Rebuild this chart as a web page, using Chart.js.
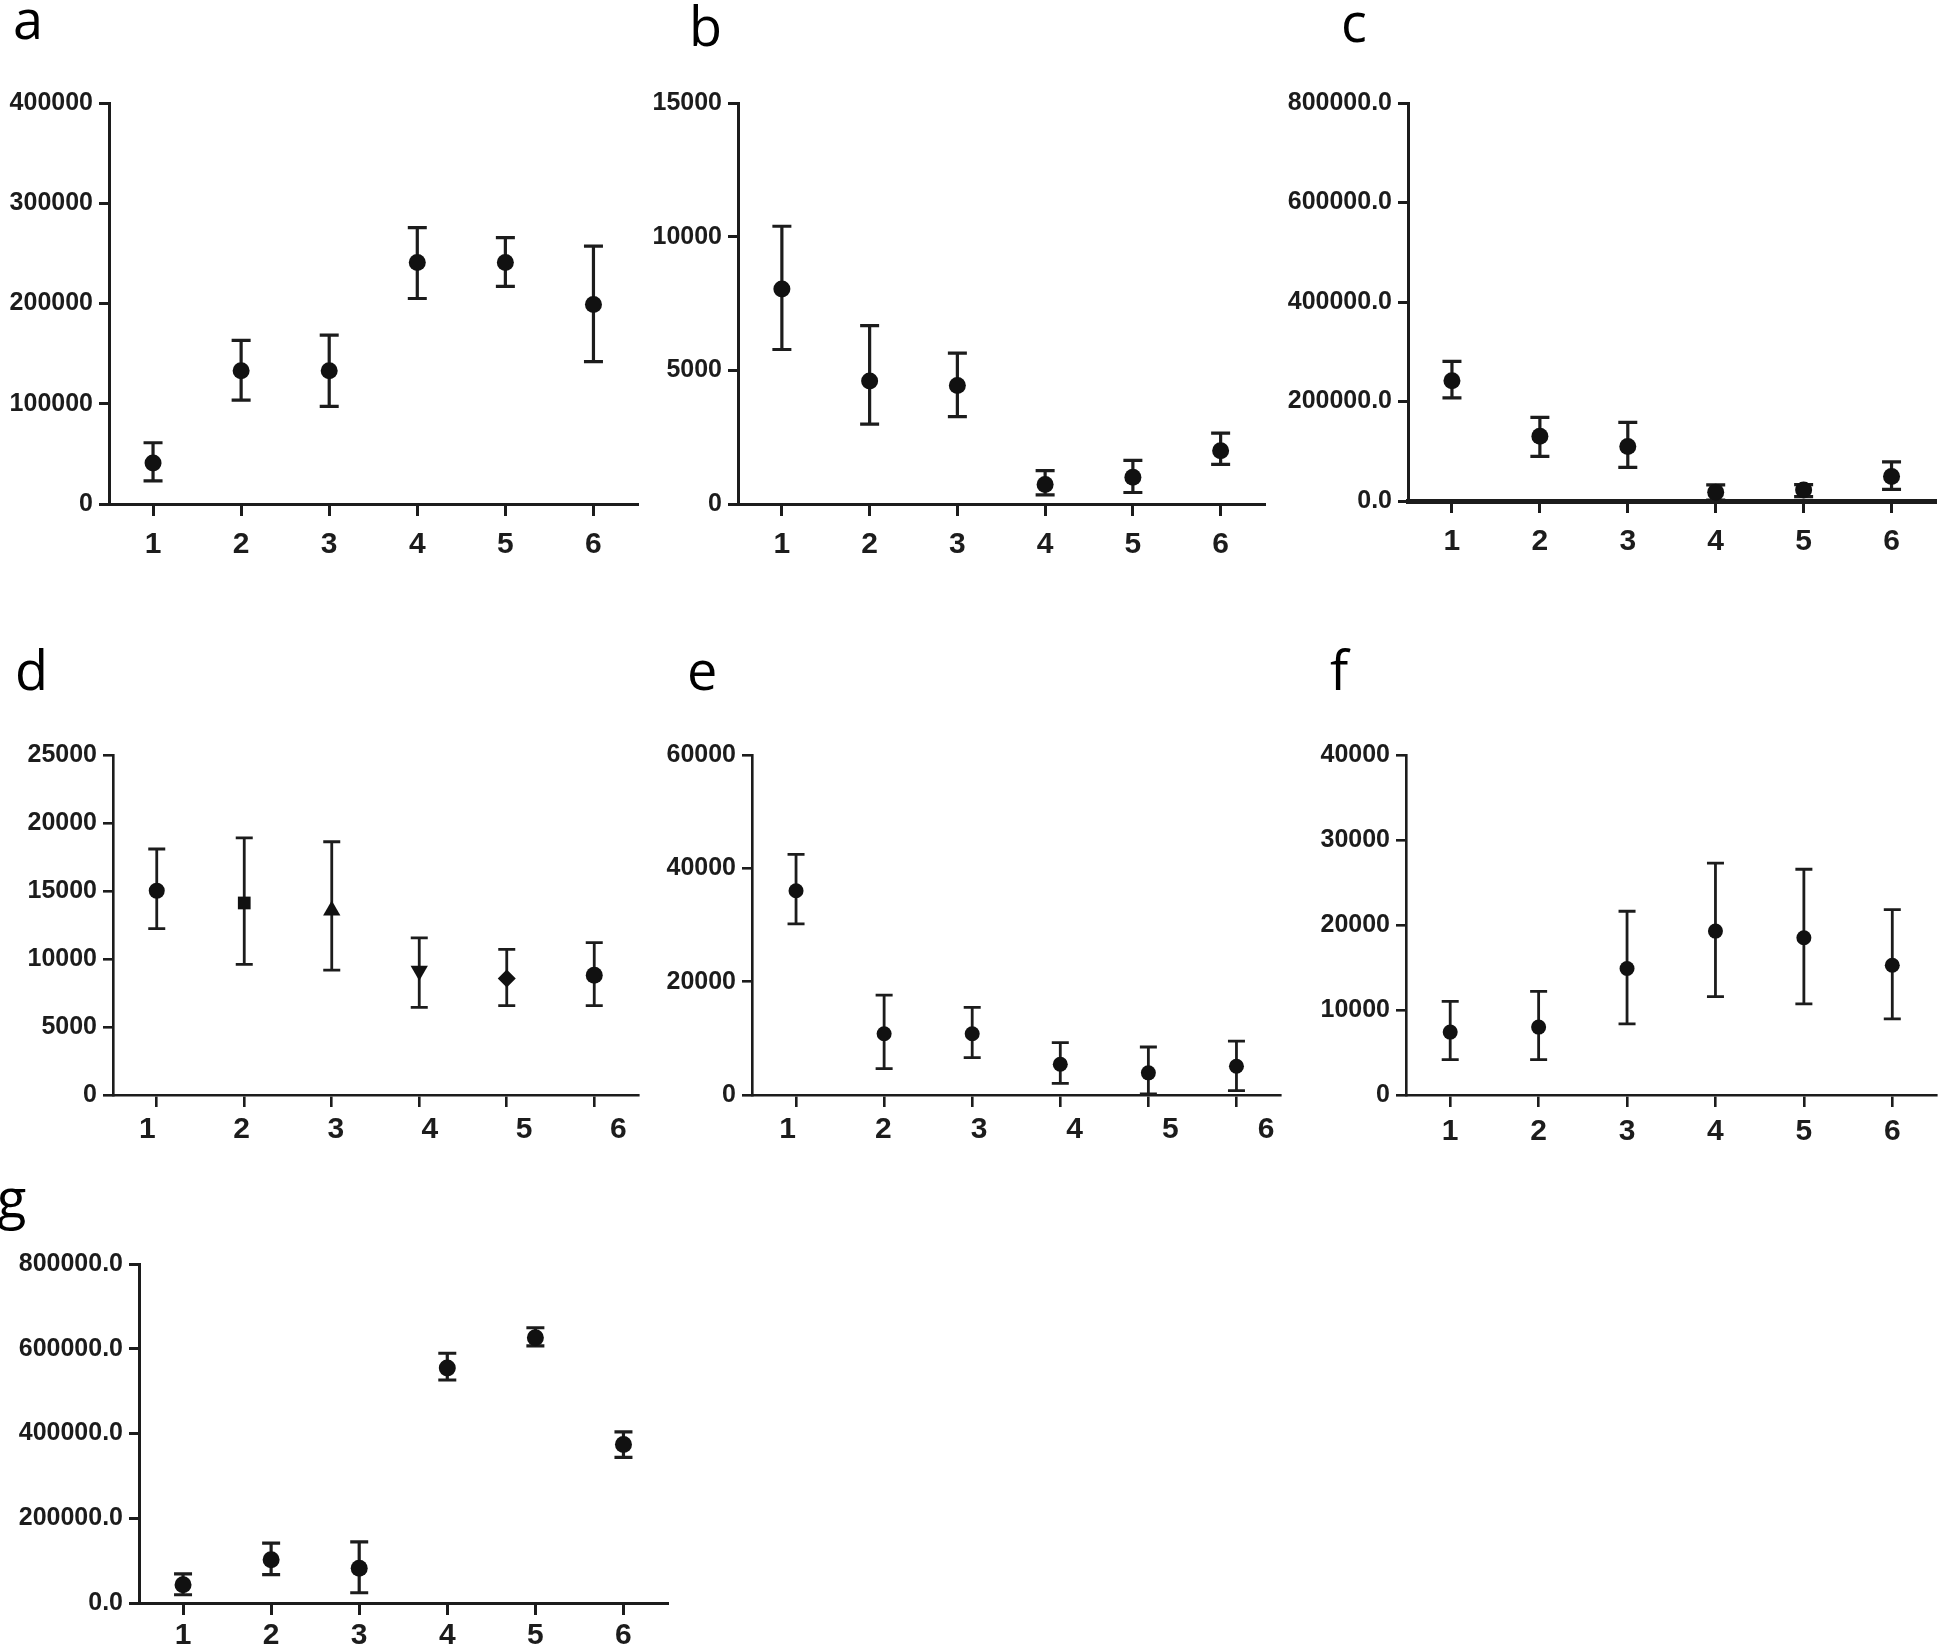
<!DOCTYPE html>
<html><head><meta charset="utf-8">
<script src="https://cdn.jsdelivr.net/npm/chart.js@4.4.1/dist/chart.umd.min.js"></script>
<style>
html,body{margin:0;padding:0;background:#fff;}
body{width:1944px;height:1644px;position:relative;overflow:hidden;}
canvas{position:absolute;}
.lbl{position:absolute;font-family:'Open Sans',sans-serif;font-size:54px;line-height:1;color:#000;}
</style></head><body>
<div class="lbl" style="left:13px;top:-9px">a</div>
<div class="lbl" style="left:689px;top:-2px">b</div>
<div class="lbl" style="left:1341px;top:-6px">c</div>
<div class="lbl" style="left:15px;top:642px">d</div>
<div class="lbl" style="left:687px;top:642px">e</div>
<div class="lbl" style="left:1330px;top:642px">f</div>
<div class="lbl" style="left:-3px;top:1170px">g</div>
<canvas id="ca"></canvas><canvas id="cb"></canvas><canvas id="cc"></canvas>
<canvas id="cd"></canvas><canvas id="ce"></canvas><canvas id="cf"></canvas>
<canvas id="cg"></canvas>
<script>
// ---------- data ----------
const categories = [1, 2, 3, 4, 5, 6];

const aMean = [41000, 133000, 133000, 241000, 241000, 199000];
const aLow  = [23000, 103600, 97400, 205000, 217000, 142000];
const aHigh = [61100, 163200, 168400, 275600, 265700, 257300];
const aTicks = [0, 100000, 200000, 300000, 400000];

const bMean = [8040, 4600, 4430, 730, 1000, 1990];
const bLow  = [5780, 2990, 3270, 340, 430, 1480];
const bHigh = [10390, 6670, 5640, 1250, 1630, 2650];
const bTicks = [0, 5000, 10000, 15000];

const cMean = [241700, 130000, 109500, 17600, 22000, 49200];
const cLow  = [207200, 89600, 67600, 2000, 8800, 23500];
const cHigh = [280600, 168200, 157900, 32300, 33000, 78600];
const cTicks = [0, 200000, 400000, 600000, 800000];

const dMean = [15020, 14120, 13560, 9130, 8570, 8810];
const dLow  = [12240, 9610, 9180, 6450, 6570, 6570];
const dHigh = [18090, 18910, 18620, 11560, 10710, 11200];
const dTicks = [0, 5000, 10000, 15000, 20000, 25000];

const eMean = [36050, 10810, 10810, 5430, 3910, 5080];
const eLow  = [30200, 4670, 6600, 2050, 180, 760];
const eHigh = [42470, 17640, 15480, 9230, 8470, 9520];
const eTicks = [0, 20000, 40000, 60000];

const fMean = [7400, 7990, 14880, 19280, 18500, 15270];
const fLow  = [4170, 4170, 8370, 11570, 10710, 8960];
const fHigh = [11020, 12190, 21620, 27270, 26560, 21810];
const fTicks = [0, 10000, 20000, 30000, 40000];

const gMean = [42900, 102100, 81900, 554400, 626100, 374300];
const gLow  = [19500, 67000, 24200, 526300, 606600, 343800];
const gHigh = [68600, 141100, 144200, 589400, 649500, 403900];
const gTicks = [0, 200000, 400000, 600000, 800000];

// ---------- styles ----------
const dPointStyles = ['circle', 'rect', 'triangle', 'triangle', 'rectRot', 'circle'];
const dRotations = [0, 0, 0, 180, 0, 0];
const dRadii = [8, 9, 10, 10, 9, 8.5];

const INK = '#1c1c1c';
const TICK_FONT_Y = { family: 'Liberation Sans', weight: 'bold', size: 25 };
const TICK_FONT_X = { family: 'Liberation Sans', weight: 'bold', size: 30 };

const errorBars = {
  id: 'errorBars',
  beforeDatasetsDraw(chart) {
    const ds = chart.data.datasets[0];
    const meta = chart.getDatasetMeta(0);
    const y = chart.scales.y;
    const ctx = chart.ctx;
    ctx.save();
    ctx.strokeStyle = INK;
    ctx.lineWidth = ds.errWidth;
    ctx.lineCap = 'butt';
    ds.data.forEach((p, i) => {
      const px = meta.data[i].x;
      const pl = y.getPixelForValue(p.lo);
      const ph = y.getPixelForValue(p.hi);
      const c = ds.errCap;
      ctx.beginPath();
      ctx.moveTo(px, pl); ctx.lineTo(px, ph);
      ctx.moveTo(px - c, pl); ctx.lineTo(px + c, pl);
      ctx.moveTo(px - c, ph); ctx.lineTo(px + c, ph);
      ctx.stroke();
    });
    ctx.restore();
  }
};

function makePanel(id, mean, low, high, yTicks, g) {
  const cv = document.getElementById(id);
  const left = g.axisX - g.yW;
  const top = g.top - g.pt;
  const w = g.end - left + g.pr;
  const h = g.bottom - g.top + g.pt + g.xH;
  cv.style.left = left + 'px';
  cv.style.top = top + 'px';
  cv.width = w; cv.height = h;
  cv.style.width = w + 'px'; cv.style.height = h + 'px';
  const pts = categories.map((c, i) => ({ x: c, y: mean[i], lo: low[i], hi: high[i] }));
  const tickGrid = { display: true, drawOnChartArea: false, drawTicks: true, tickLength: 12, tickWidth: g.aw, tickColor: INK, color: INK, lineWidth: g.aw };
  const scales = {
    x: {
      type: 'linear', min: 0.5, max: 6.5,
      afterBuildTicks: s => { s.ticks = categories.map(v => ({ value: v })); },
      afterFit: s => { s.height = g.labelRange ? 12 : g.xH; },
      grid: tickGrid,
      border: { display: true, color: INK, width: g.xw || g.aw },
      ticks: { display: !g.labelRange, color: INK, font: TICK_FONT_X, padding: g.xpad, maxRotation: 0, autoSkip: false, callback: v => String(v) }
    },
    y: {
      type: 'linear', min: 0, max: yTicks[yTicks.length - 1],
      afterBuildTicks: s => { s.ticks = yTicks.map(v => ({ value: v })); },
      afterFit: s => { s.width = g.yW; },
      grid: Object.assign({}, tickGrid, { tickLength: 10 }),
      border: { display: true, color: INK, width: g.aw },
      ticks: { color: INK, font: TICK_FONT_Y, padding: 6, autoSkip: false,
               callback: v => g.dec ? Number(v).toFixed(1) : String(v) }
    }
  };
  if (g.labelRange) {
    // category labels printed slightly off their tick marks, as in the original figure
    scales.xl = {
      type: 'linear', position: 'bottom', axis: 'x',
      min: g.labelRange[0], max: g.labelRange[1],
      afterBuildTicks: s => { s.ticks = categories.map(v => ({ value: v })); },
      afterFit: s => { s.height = g.xH - 12; },
      grid: { display: false, drawTicks: false },
      border: { display: false },
      ticks: { color: INK, font: TICK_FONT_X, padding: g.xpad - 2, maxRotation: 0, autoSkip: false, callback: v => String(v) }
    };
  }
  new Chart(cv, {
    type: 'scatter',
    data: { datasets: [{
      data: pts,
      xAxisID: 'x', yAxisID: 'y',
      backgroundColor: '#111',
      borderWidth: 0,
      pointRadius: g.pointStyle ? g.radii : g.r,
      pointStyle: g.pointStyle || 'circle',
      rotation: g.rotation || 0,
      errWidth: g.lw,
      errCap: g.cap
    }]},
    options: {
      responsive: false,
      animation: false,
      devicePixelRatio: 1,
      layout: { padding: { top: g.pt, right: g.pr, left: 0, bottom: 0 } },
      plugins: { legend: { display: false }, tooltip: { enabled: false } },
      scales: scales
    },
    plugins: [errorBars]
  });
}

const row1 = { top: 100, bottom: 504, pt: 18, pr: 4, xH: 62, xpad: 11, aw: 3, lw: 3.2, cap: 9.5, r: 8.5 };
const row2 = { top: 752, bottom: 1095, pt: 18, pr: 4, xH: 62, xpad: 7, aw: 2.6, lw: 2.8, cap: 8.5, r: 7.5 };

makePanel('ca', aMean, aLow, aHigh, aTicks, Object.assign({}, row1, { axisX: 109, end: 642, yW: 109 }));
makePanel('cb', bMean, bLow, bHigh, bTicks, Object.assign({}, row1, { axisX: 738, end: 1269, yW: 110 }));
makePanel('cc', cMean, cLow, cHigh, cTicks, Object.assign({}, row1, { axisX: 1408, end: 1940, yW: 130, top: 100, bottom: 501, dec: true, xw: 5 }));
makePanel('cd', dMean, dLow, dHigh, dTicks, Object.assign({}, row2, { axisX: 113, end: 644, yW: 113, pointStyle: dPointStyles, rotation: dRotations, radii: dRadii, labelRange: [0.636, 6.208] }));
makePanel('ce', eMean, eLow, eHigh, eTicks, Object.assign({}, row2, { axisX: 752, end: 1284, yW: 110, labelRange: [0.628, 6.151] }));
makePanel('cf', fMean, fLow, fHigh, fTicks, Object.assign({}, row2, { axisX: 1406, end: 1940, yW: 110 }));
makePanel('cg', gMean, gLow, gHigh, gTicks, { top: 1261, bottom: 1603, pt: 18, pr: 4, xH: 41, xpad: 3, aw: 3, lw: 3.2, cap: 9, r: 8.5, axisX: 139, end: 672, yW: 139, dec: true });
</script>
</body></html>
